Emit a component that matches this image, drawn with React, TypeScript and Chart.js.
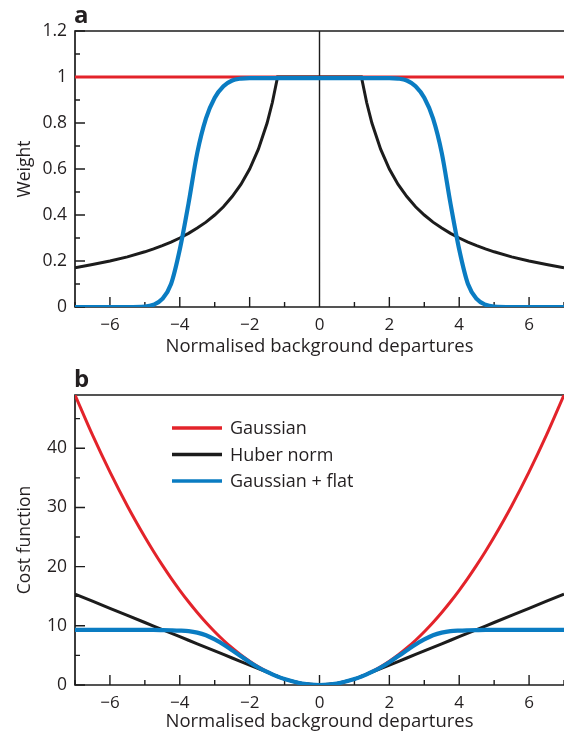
import React, { useEffect, useRef } from 'react';
import { Chart, registerables } from 'chart.js';

Chart.register(...registerables);

// Absolute departures at which every curve is sampled; each curve is symmetric about zero.
const offsets = [0, 0.5, 1, 1.2, 1.35, 1.5, 1.75, 2, 2.25, 2.5, 2.75, 3, 3.25, 3.5, 3.75, 4, 4.25, 4.5, 4.75, 5, 5.5, 6, 6.5, 7];

// Panel a: observation weight
const gaussianWeight = [1, 1, 1, 1, 1, 1, 1, 1, 1, 1, 1, 1, 1, 1, 1, 1, 1, 1, 1, 1, 1, 1, 1, 1];
const huberWeight = [1, 1, 1, 1, 0.889, 0.8, 0.686, 0.6, 0.533, 0.48, 0.436, 0.4, 0.369, 0.343, 0.32, 0.3, 0.282, 0.267, 0.253, 0.24, 0.218, 0.2, 0.185, 0.171];
const flatWeight = [0.995, 0.995, 0.995, 0.995, 0.995, 0.995, 0.995, 0.995, 0.993, 0.985, 0.96, 0.91, 0.82, 0.67, 0.45, 0.25, 0.1, 0.035, 0.01, 0.002, 0, 0, 0, 0];

// Panel b: cost function
const gaussianCost = [0, 0.25, 1, 1.44, 1.82, 2.25, 3.06, 4, 5.06, 6.25, 7.56, 9, 10.56, 12.25, 14.06, 16, 18.06, 20.25, 22.56, 25, 30.25, 36, 42.25, 49];
const huberCost = [0, 0.25, 1, 1.44, 1.8, 2.16, 2.76, 3.36, 3.96, 4.56, 5.16, 5.76, 6.36, 6.96, 7.56, 8.16, 8.76, 9.36, 9.96, 10.56, 11.76, 12.96, 14.16, 15.36];
const flatCost = [0, 0.25, 1, 1.43, 1.8, 2.2, 2.95, 3.85, 4.85, 5.85, 6.85, 7.7, 8.4, 8.85, 9.1, 9.2, 9.25, 9.28, 9.3, 9.3, 9.3, 9.3, 9.3, 9.3];

const seriesNames = ['Gaussian', 'Huber norm', 'Gaussian + flat'];
const xTitle = 'Normalised background departures';

const RED = '#e3232a';
const BLACK = '#1c1c1c';
const BLUE = '#0a7cc2';
const TEXT = '#231f20';
const FONT = '"Open Sans", "DejaVu Sans", sans-serif';

Chart.defaults.font.family = FONT;

function mirrored(values: number[]) {
  const pts: { x: number; y: number }[] = [];
  for (let i = offsets.length - 1; i > 0; i--) pts.push({ x: -offsets[i], y: values[i] });
  for (let i = 0; i < offsets.length; i++) pts.push({ x: offsets[i], y: values[i] });
  return pts;
}

const near = (a: number, b: number) => Math.abs(a - b) < 1e-6;
const isMultiple = (v: number, step: number) => near(v / step, Math.round(v / step));

// Axes, top border, inward tick marks and optional zero line
const framePlugin = {
  id: 'frame',
  beforeDatasetsDraw(chart: any, _args: any, opts: any) {
    const { ctx, chartArea: a, scales } = chart;
    const xs = scales.x;
    const ys = scales.y;
    ctx.save();
    ctx.strokeStyle = BLACK;
    ctx.lineCap = 'butt';
    ctx.lineWidth = 1.4;
    ctx.beginPath();
    xs.ticks.forEach((t: any) => {
      const v = t.value;
      if (!isMultiple(v, opts.xMinor)) return;
      const len = isMultiple(v, opts.xMajor) ? 10 : 5;
      const px = xs.getPixelForValue(v);
      ctx.moveTo(px, a.bottom);
      ctx.lineTo(px, a.bottom - len);
    });
    ys.ticks.forEach((t: any) => {
      const v = t.value;
      if (!isMultiple(v, opts.yMinor)) return;
      const len = isMultiple(v, opts.yMajor) ? 10 : 5;
      const py = ys.getPixelForValue(v);
      ctx.moveTo(a.left, py);
      ctx.lineTo(a.left + len, py);
    });
    if (opts.zeroLine) {
      const px = xs.getPixelForValue(0);
      ctx.moveTo(px, a.top);
      ctx.lineTo(px, a.bottom);
    }
    ctx.stroke();
    ctx.lineWidth = 1.7;
    ctx.beginPath();
    ctx.moveTo(a.right, a.top);
    ctx.lineTo(a.left, a.top);
    ctx.lineTo(a.left, a.bottom);
    ctx.lineTo(a.right, a.bottom);
    ctx.stroke();
    ctx.restore();
  },
};

// Panel letter and the legend drawn inside the plot area
const annotatePlugin = {
  id: 'annotate',
  afterDraw(chart: any, _args: any, opts: any) {
    const { ctx, chartArea: a } = chart;
    ctx.save();
    ctx.fillStyle = TEXT;
    ctx.font = `bold 24px ${FONT}`;
    ctx.textBaseline = 'alphabetic';
    ctx.textAlign = 'left';
    ctx.fillText(opts.panel, a.left - 1, a.top - 8);
    if (opts.legend) {
      const L = opts.legend;
      ctx.font = `18px ${FONT}`;
      ctx.textBaseline = 'middle';
      chart.data.datasets.forEach((ds: any, i: number) => {
        const y = a.top + L.top + i * L.rowGap;
        const x0 = a.left + L.left;
        ctx.strokeStyle = ds.borderColor;
        ctx.lineWidth = 3.4;
        ctx.beginPath();
        ctx.moveTo(x0, y);
        ctx.lineTo(x0 + L.lineLength, y);
        ctx.stroke();
        ctx.fillText(ds.label, x0 + L.lineLength + 8, y + 1);
      });
    }
    ctx.restore();
  },
};

const minus = (v: number) => (v < 0 ? '\u2212' + Math.abs(v) : String(v));

function makeConfig(p: {
  values: number[][];
  yMax: number;
  yStep: number;
  yMajor: number;
  yLabelMax: number;
  yTitle: string;
  axisHeight: number;
  titleBottom: number;
  topPad: number;
  panel: string;
  zeroLine: boolean;
  legend: any;
}) {
  const colors = [RED, BLACK, BLUE];
  const widths = [3, 3, 4.2];
  const orders = [3, 2, 1];
  return {
    type: 'line' as const,
    data: {
      datasets: p.values.map((vals, i) => ({
        label: seriesNames[i],
        data: mirrored(vals),
        borderColor: colors[i],
        backgroundColor: colors[i],
        borderWidth: widths[i],
        pointRadius: 0,
        fill: false,
        order: orders[i],
        tension: 0,
        cubicInterpolationMode: i === 1 ? 'default' : 'monotone',
      })),
    },
    options: {
      responsive: false,
      maintainAspectRatio: false,
      animation: false,
      events: [],
      layout: { padding: { top: p.topPad, left: 0, right: 0, bottom: 0 } },
      plugins: {
        legend: { display: false },
        tooltip: { enabled: false },
        frame: { xMinor: 1, xMajor: 2, yMinor: p.yStep, yMajor: p.yMajor, zeroLine: p.zeroLine },
        annotate: { panel: p.panel, legend: p.legend },
      },
      scales: {
        x: {
          type: 'linear',
          min: -7,
          max: 7,
          ticks: {
            stepSize: 1,
            autoSkip: false,
            maxRotation: 0,
            padding: 8,
            color: TEXT,
            font: { size: 17 },
            callback: (v: number) => (isMultiple(v, 2) ? minus(Math.round(v)) : ''),
          },
          grid: { display: false, drawTicks: false },
          border: { display: false },
          title: { display: true, text: xTitle, color: TEXT, font: { size: 18.5 }, padding: { top: 0, bottom: p.titleBottom } },
          afterFit: (s: any) => {
            s.height = p.axisHeight;
            s.paddingLeft = 0;
            s.paddingRight = 0;
          },
        },
        y: {
          type: 'linear',
          min: 0,
          max: p.yMax,
          ticks: {
            stepSize: p.yStep,
            autoSkip: false,
            padding: 8,
            color: TEXT,
            font: { size: 17.5 },
            callback: (v: number) =>
              isMultiple(v, p.yMajor) && v <= p.yLabelMax + 1e-6 ? String(Math.round(v * 10) / 10) : '',
          },
          grid: { display: false, drawTicks: false },
          border: { display: false },
          title: { display: true, text: p.yTitle, color: TEXT, font: { size: 17.5 }, padding: { top: 15, bottom: 0 } },
          afterFit: (s: any) => {
            s.width = 75;
          },
        },
      },
    },
    plugins: [framePlugin, annotatePlugin],
  };
}

export default function App() {
  const weightRef = useRef<HTMLCanvasElement>(null);
  const costRef = useRef<HTMLCanvasElement>(null);

  useEffect(() => {
    const weightChart = new Chart(
      weightRef.current as HTMLCanvasElement,
      makeConfig({
        values: [gaussianWeight, huberWeight, flatWeight],
        yMax: 1.2,
        yStep: 0.1,
        yMajor: 0.2,
        yLabelMax: 1.2,
        yTitle: 'Weight',
        axisHeight: 58,
        titleBottom: 7,
        topPad: 31,
        panel: 'a',
        zeroLine: true,
        legend: null,
      }) as any
    );
    const costChart = new Chart(
      costRef.current as HTMLCanvasElement,
      makeConfig({
        values: [gaussianCost, huberCost, flatCost],
        yMax: 49,
        yStep: 5,
        yMajor: 10,
        yLabelMax: 40,
        yTitle: 'Cost function',
        axisHeight: 50,
        titleBottom: 2,
        topPad: 30,
        panel: 'b',
        zeroLine: false,
        legend: { left: 97, top: 33, rowGap: 26.5, lineLength: 50 },
      }) as any
    );
    return () => {
      weightChart.destroy();
      costChart.destroy();
    };
  }, []);

  return (
    <div style={{ position: 'fixed', left: 0, top: 0, width: 564, height: 735, background: '#fff' }}>
      <canvas
        ref={weightRef}
        width={564}
        height={365}
        style={{ position: 'absolute', left: 0, top: 0, width: 564, height: 365 }}
      />
      <canvas
        ref={costRef}
        width={564}
        height={370}
        style={{ position: 'absolute', left: 0, top: 365, width: 564, height: 370 }}
      />
    </div>
  );
}
